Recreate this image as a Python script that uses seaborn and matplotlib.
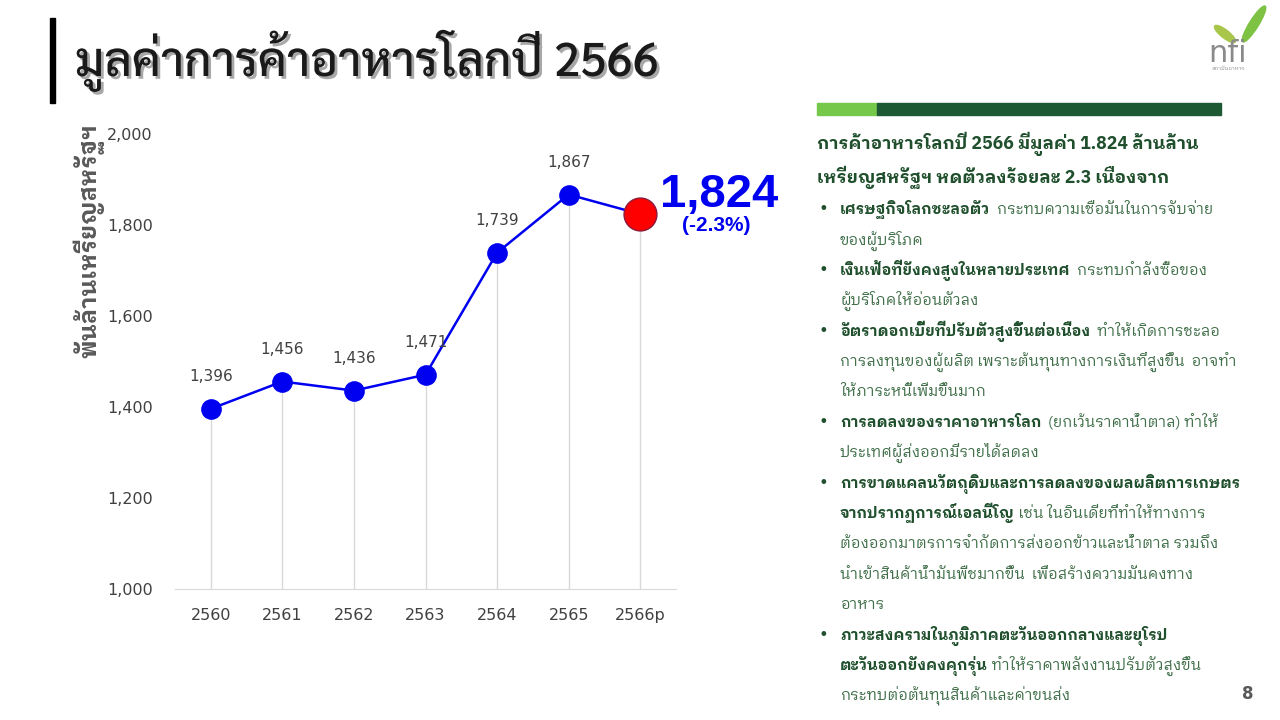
import matplotlib
matplotlib.use("Agg")
import matplotlib.pyplot as plt
import matplotlib.patheffects as pe
from matplotlib.patches import Rectangle, Ellipse
from matplotlib.transforms import IdentityTransform
from matplotlib.ticker import FuncFormatter
import seaborn as sns
import pandas as pd

# data (billion USD)
years = ["2560", "2561", "2562", "2563", "2564", "2565", "2566p"]
values = [1396, 1456, 1436, 1471, 1739, 1867, 1824]
change_label = "(-2.3%)"

title = "มูลค่าการค้าอาหารโลกปี 2566"
ylabel = "พันล้านเหรียญสหรัฐฯ"

heading = [
    "การค้าอาหารโลกปี 2566 มีมูลค่า 1.824 ล้านล้าน",
    "เหรียญสหรัฐฯ หดตัวลงร้อยละ 2.3 เนื่องจาก",
]
# each bullet: list of lines, each line a list of (text, bold)
bullets = [
    [[("เศรษฐกิจโลกชะลอตัว", True), ("  กระทบความเชื่อมั่นในการจับจ่าย", False)],
     [("ของผู้บริโภค", False)]],
    [[("เงินเฟ้อที่ยังคงสูงในหลายประเทศ", True), ("  กระทบกำลังซื้อของ", False)],
     [("ผู้บริโภคให้อ่อนตัวลง", False)]],
    [[("อัตราดอกเบี้ยที่ปรับตัวสูงขึ้นต่อเนื่อง", True), ("  ทำให้เกิดการชะลอ", False)],
     [("การลงทุนของผู้ผลิต เพราะต้นทุนทางการเงินที่สูงขึ้น  อาจทำ", False)],
     [("ให้ภาระหนี้เพิ่มขึ้นมาก", False)]],
    [[("การลดลงของราคาอาหารโลก", True), ("  (ยกเว้นราคาน้ำตาล) ทำให้", False)],
     [("ประเทศผู้ส่งออกมีรายได้ลดลง", False)]],
    [[("การขาดแคลนวัตถุดิบและการลดลงของผลผลิตการเกษตร", True)],
     [("จากปรากฏการณ์เอลนีโญ", True), (" เช่น ในอินเดียที่ทำให้ทางการ", False)],
     [("ต้องออกมาตรการจำกัดการส่งออกข้าวและน้ำตาล รวมถึง", False)],
     [("นำเข้าสินค้าน้ำมันพืชมากขึ้น  เพื่อสร้างความมั่นคงทาง", False)],
     [("อาหาร", False)]],
    [[("ภาวะสงครามในภูมิภาคตะวันออกกลางและยุโรป", True)],
     [("ตะวันออกยังคงคุกรุ่น", True), (" ทำให้ราคาพลังงานปรับตัวสูงขึ้น", False)],
     [("กระทบต่อต้นทุนสินค้าและค่าขนส่ง", False)]],
]

df = pd.DataFrame({"year": years, "value": values})
df["pos"] = range(len(df))

sns.set_style("white")
plt.rcParams["font.family"] = ["DejaVu Sans", "IBM Plex Sans Thai Looped"]
THAI = ["IBM Plex Sans Thai Looped", "DejaVu Sans"]

BLUE = "#0000f0"
GREY = "#404040"
W, H = 1280, 720

fig = plt.figure(figsize=(12.8, 7.2), dpi=100)
fig.patch.set_facecolor("white")


def fx(x):
    return x / W


def fy(y):
    return 1 - y / H


# ---- chart ----
ax = fig.add_axes([fx(175), fy(589), fx(676) - fx(175), fy(134) - fy(589)])
ax.vlines(df["pos"], 1000, df["value"], color="#d9d9d9", lw=1, zorder=1)
sns.lineplot(data=df, x="pos", y="value", ax=ax, color=BLUE, lw=1.8, zorder=2)
sns.scatterplot(data=df.iloc[:-1], x="pos", y="value", ax=ax, color=BLUE,
                s=190, edgecolor=BLUE, zorder=3)
sns.scatterplot(data=df.iloc[-1:], x="pos", y="value", ax=ax, color="#ff0000",
                s=560, edgecolor="#8b1a3a", linewidth=1, zorder=4)

for p, v in zip(df["pos"][:-1], df["value"][:-1]):
    ax.annotate(f"{v:,}", (p, v), xytext=(0, 18), textcoords="offset points",
                ha="center", va="bottom", fontsize=11, color=GREY)

ax.annotate(f"{values[-1]:,}", (df["pos"].iloc[-1], values[-1]), xytext=(57, 14),
            textcoords="offset points", ha="center", va="center",
            fontsize=34, fontweight="bold", color=BLUE, family="Liberation Sans")
ax.annotate(change_label, (df["pos"].iloc[-1], values[-1]), xytext=(55, -8),
            textcoords="offset points", ha="center", va="center",
            fontsize=15, fontweight="bold", color=BLUE, family="Liberation Sans")

ax.set_xlim(-0.5, 6.5)
ax.set_ylim(1000, 2000)
ax.set_yticks(range(1000, 2001, 200))
ax.yaxis.set_major_formatter(FuncFormatter(lambda v, _: f"{int(v):,}"))
ax.set_xticks(df["pos"])
ax.set_xticklabels(years)
ax.tick_params(axis="both", length=0, labelsize=11.5, labelcolor=GREY)
ax.tick_params(axis="x", pad=14)
ax.tick_params(axis="y", pad=16)
for s in ["top", "right", "left"]:
    ax.spines[s].set_visible(False)
ax.spines["bottom"].set_color("#d9d9d9")
ax.set_xlabel("")
ax.set_ylabel(ylabel, family=THAI, fontsize=17, fontweight="bold", color="#595959")
ax.yaxis.set_label_coords(-0.14, 0.765)

# ---- title ----
fig.add_artist(Rectangle((fx(50), fy(103)), fx(5), fy(18) - fy(103),
                         transform=fig.transFigure, color="black"))
fig.text(fx(75), fy(76), title, family=["Sarabun", "DejaVu Sans"], fontsize=34,
         fontweight="medium", color="#1a1a1a", va="baseline",
         path_effects=[pe.SimplePatchShadow(offset=(2, -2), alpha=0.35), pe.Normal()])

# ---- logo ----
fig.text(fx(1228), fy(62), "nfi", fontsize=22, color="#8a8a8a", ha="center",
         va="baseline", family="DejaVu Sans")
fig.text(fx(1228), fy(70), "สถาบันอาหาร", fontsize=4, color="#8a8a8a",
         ha="center", va="baseline", family=THAI)
fig.add_artist(Ellipse((1254, H - 24), 42, 9, angle=58, color="#7dc242",
                       transform=IdentityTransform()))
fig.add_artist(Ellipse((1225, H - 34), 26, 8, angle=-38, color="#a8c64a",
                       transform=IdentityTransform()))

# ---- right panel ----
fig.add_artist(Rectangle((fx(817), fy(115)), fx(60), fy(103) - fy(115),
                         transform=fig.transFigure, color="#76c84a"))
fig.add_artist(Rectangle((fx(877), fy(115)), fx(1221) - fx(877), fy(103) - fy(115),
                         transform=fig.transFigure, color="#1d5a34"))

DARK = "#1f4f2c"
LIGHT = "#3f6e48"
FS = 10.8
renderer = fig.canvas.get_renderer()

for i, line in enumerate(heading):
    fig.text(fx(817), fy(149 + i * 34), line, family=THAI, fontsize=12.7,
             fontweight="bold", color=DARK, va="baseline")


def draw_line(x, y, segs):
    for text, bold in segs:
        t = fig.text(fx(x), fy(y), text, family=THAI, fontsize=FS,
                     fontweight="bold" if bold else "normal",
                     color=DARK if bold else LIGHT, va="baseline")
        bb = t.get_window_extent(renderer)
        x += bb.width


y = 214
for item in bullets:
    fig.text(fx(823), fy(y), "•", fontsize=FS + 1, color=DARK, ha="center",
             va="baseline", family="DejaVu Sans")
    for segs in item:
        draw_line(840, y, segs)
        y += 30.4

fig.text(fx(1248), fy(699), "8", fontsize=12, fontweight="bold", color="#595959",
         ha="center", va="baseline", family="DejaVu Sans")

fig.savefig("out.png", dpi=100)
